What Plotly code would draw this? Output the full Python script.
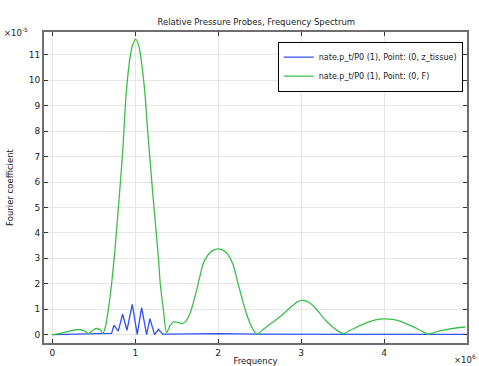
import plotly.graph_objects as go

# Frequency in units of 1e6, coefficient in units of 1e-5
green_freq = [0, 0.1, 0.2, 0.31, 0.38, 0.44, 0.5, 0.54, 0.58, 0.61, 0.64, 0.675, 0.715, 0.755,
              0.788, 0.82, 0.85, 0.888, 0.928, 0.96, 1.005, 1.04, 1.077, 1.12, 1.149, 1.177,
              1.21, 1.245, 1.28, 1.30, 1.34, 1.378, 1.42, 1.458, 1.51, 1.56, 1.61, 1.66, 1.70,
              1.74, 1.78, 1.82, 1.86, 1.9, 1.95, 2.0, 2.05, 2.10, 2.14, 2.18, 2.21, 2.24, 2.29,
              2.34, 2.39, 2.43, 2.47, 2.55, 2.65, 2.74, 2.82, 2.9, 2.96, 3.01, 3.06, 3.12, 3.19,
              3.26, 3.33, 3.42, 3.51, 3.6, 3.7, 3.8, 3.9, 4.0, 4.1, 4.2, 4.3, 4.42, 4.53, 4.65,
              4.75, 4.87, 4.98]
green_val = [0, 0.05, 0.13, 0.2, 0.16, 0.04, 0.2, 0.24, 0.18, 0.05, 0.3, 0.96, 2.0, 3.32,
             4.63, 5.95, 7.26, 9.36, 10.67, 11.3, 11.62, 11.4, 10.67, 9.36, 8.05, 6.93,
             5.6, 4.3, 3.0, 2.07, 0.96, 0.08, 0.35, 0.5, 0.48, 0.43, 0.52, 0.83, 1.25,
             1.74, 2.3, 2.8, 3.05, 3.22, 3.33, 3.37, 3.33, 3.22, 3.03, 2.75, 2.4, 2.0, 1.4,
             0.83, 0.4, 0.15, 0.02, 0.22, 0.47, 0.69, 0.92, 1.15, 1.3, 1.35, 1.32, 1.2, 0.98,
             0.69, 0.45, 0.2, 0.04, 0.18, 0.34, 0.48, 0.58, 0.62, 0.6, 0.52, 0.38, 0.2, 0.02, 0.13,
             0.2, 0.26, 0.30]

blue_freq = [0, 0.3, 0.5, 0.6, 0.68, 0.715, 0.743, 0.795, 0.848, 0.87, 0.9, 0.964, 1.024,
             1.077, 1.137, 1.177, 1.233, 1.28, 1.33, 1.4, 2.0, 2.5, 3.0, 4.0, 5.0]
blue_val = [0, 0.01, 0.03, 0.02, 0.03, 0.05, 0.37, 0.14, 0.80, 0.5, 0.17, 1.19, 0.01,
            1.06, 0.0, 0.63, 0.0, 0.21, 0.02, 0.02, 0.04, 0.02, 0.01, 0.01, 0.01]

series_names = ["nate.p_t/P0 (1), Point: (0, z_tissue)", "nate.p_t/P0 (1), Point: (0, F)"]
x_ticks = [0, 1, 2, 3, 4]
y_ticks = list(range(0, 12))

FONT = "DejaVu Sans"

fig = go.Figure()
fig.add_trace(go.Scatter(x=blue_freq, y=blue_val, mode="lines", name=series_names[0],
                         line=dict(color="#3350f0", width=1.3)))
fig.add_trace(go.Scatter(x=green_freq, y=green_val, mode="lines", name=series_names[1],
                         line=dict(color="#3cbf4a", width=1.3, shape="spline", smoothing=0.8)))

axis_common = dict(showline=True, linecolor="#6e6e6e", linewidth=2, mirror="ticks",
                   ticks="inside", ticklen=4, tickcolor="#333333", showgrid=True,
                   gridcolor="#e6e6e6", gridwidth=1, zeroline=False, automargin=False,
                   tickfont=dict(family=FONT, size=9, color="#222222"))

fig.update_layout(
    width=479, height=366,
    margin=dict(l=44, r=12, t=32, b=23, pad=0),
    paper_bgcolor="white", plot_bgcolor="white",
    font=dict(family=FONT, size=9, color="#222222"),
    title=dict(text="Relative Pressure Probes, Frequency Spectrum", x=0.535, xanchor="center",
               y=1 - 22 / 366, yanchor="middle", font=dict(family=FONT, size=8.5, color="#222222")),
    xaxis=dict(range=[-0.1, 5.0], tickvals=x_ticks, title=dict(text="Frequency", standoff=2,
               font=dict(family=FONT, size=8.5)), **axis_common),
    yaxis=dict(range=[-0.33, 11.9], tickvals=y_ticks, title=dict(text="Fourier coefficient", standoff=14,
               font=dict(family=FONT, size=8.5)), **axis_common),
    legend=dict(x=0.99, y=0.969, xanchor="right", yanchor="top", bgcolor="white",
                bordercolor="#000000", borderwidth=1, font=dict(family=FONT, size=8),
                tracegroupgap=0, itemwidth=30),
    showlegend=True,
)

fig.add_annotation(text="×10<sup>-5</sup>", xref="paper", yref="paper", x=-0.1, y=1.0,
                   xanchor="left", yanchor="middle", showarrow=False,
                   font=dict(family=FONT, size=8.5, color="#222222"))
fig.add_annotation(text="×10<sup>6</sup>", xref="paper", yref="paper", x=1.025, y=-0.025,
                   xanchor="right", yanchor="top", showarrow=False,
                   font=dict(family=FONT, size=8.5, color="#222222"))

fig.write_html("out.html", config={"displayModeBar": False},
               post_script="document.body.style.margin='0';document.body.style.overflow='hidden';")
